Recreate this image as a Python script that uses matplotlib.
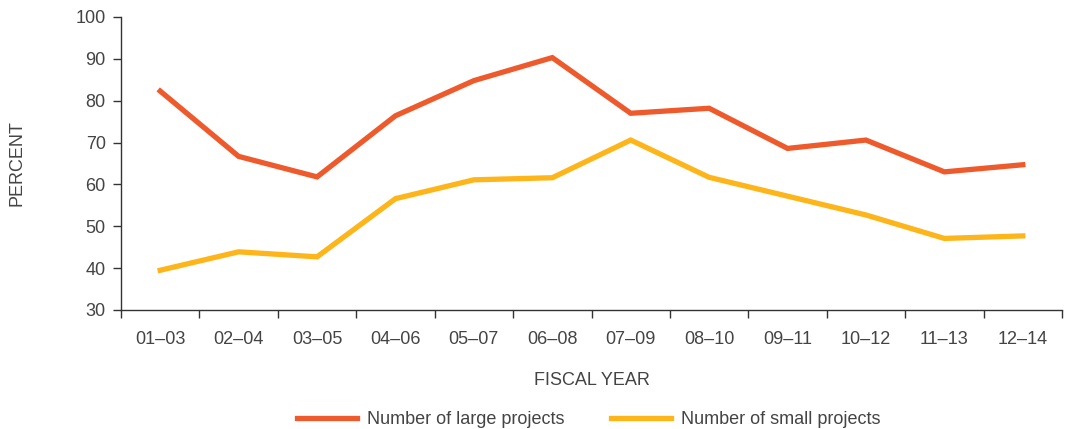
import matplotlib
matplotlib.use("Agg")
import matplotlib.pyplot as plt
import numpy as np

categories = ["01–03", "02–04", "03–05", "04–06", "05–07", "06–08",
              "07–09", "08–10", "09–11", "10–12", "11–13", "12–14"]
large_projects = [82.3, 66.7, 61.8, 76.4, 84.8, 90.3, 77.0, 78.2, 68.6, 70.6, 63.0, 64.7]
small_projects = [39.5, 43.9, 42.7, 56.6, 61.1, 61.6, 70.6, 61.7, 57.2, 52.7, 47.1, 47.7]
y_ticks = [30, 40, 50, 60, 70, 80, 90, 100]

plt.rcParams['font.family'] = ['Liberation Sans', 'DejaVu Sans']
text_color = "#444444"
fs = 13

fig = plt.figure(figsize=(10.65, 4.29), dpi=100)
ax = fig.add_axes([121/1065, 1 - 310/429, (1062 - 121)/1065, (310 - 17)/429])

x = np.arange(len(categories))
ax.plot(x, large_projects, color="#EE5A2B", lw=3.8, solid_joinstyle="miter",
        label="Number of large projects")
ax.plot(x, small_projects, color="#FDB51A", lw=3.8, solid_joinstyle="miter",
        label="Number of small projects")

ax.set_xlim(-0.5, len(categories) - 0.5)
ax.set_ylim(30, 100)
ax.set_yticks(y_ticks)
ax.set_xticks(np.arange(len(categories) + 1) - 0.5)
ax.set_xticklabels([])
ax.set_xticks(x, minor=True)
ax.set_xticklabels(categories, minor=True)
ax.tick_params(axis="x", which="minor", length=0, pad=15, labelsize=fs, labelcolor=text_color)
ax.tick_params(axis="x", which="major", length=6, width=1, color="#333333")
ax.tick_params(axis="y", length=6, width=1, color="#333333", labelsize=fs,
               labelcolor=text_color, pad=5)

for s in ["top", "right"]:
    ax.spines[s].set_visible(False)
for s in ["left", "bottom"]:
    ax.spines[s].set_color("#333333")
    ax.spines[s].set_linewidth(1)

ax.set_ylabel("PERCENT", fontsize=fs, color=text_color)
ax.yaxis.set_label_coords(-0.102, 0.5)
ax.set_xlabel("FISCAL YEAR", fontsize=fs, color=text_color)
ax.xaxis.set_label_coords(0.5, -0.212)

fig.legend(loc="center", bbox_to_anchor=(0.553, 0.022), ncol=2, frameon=False,
           fontsize=fs, handlelength=3.3, columnspacing=2.6, handletextpad=0.55,
           labelcolor=text_color)

fig.savefig("out.png", dpi=100)
